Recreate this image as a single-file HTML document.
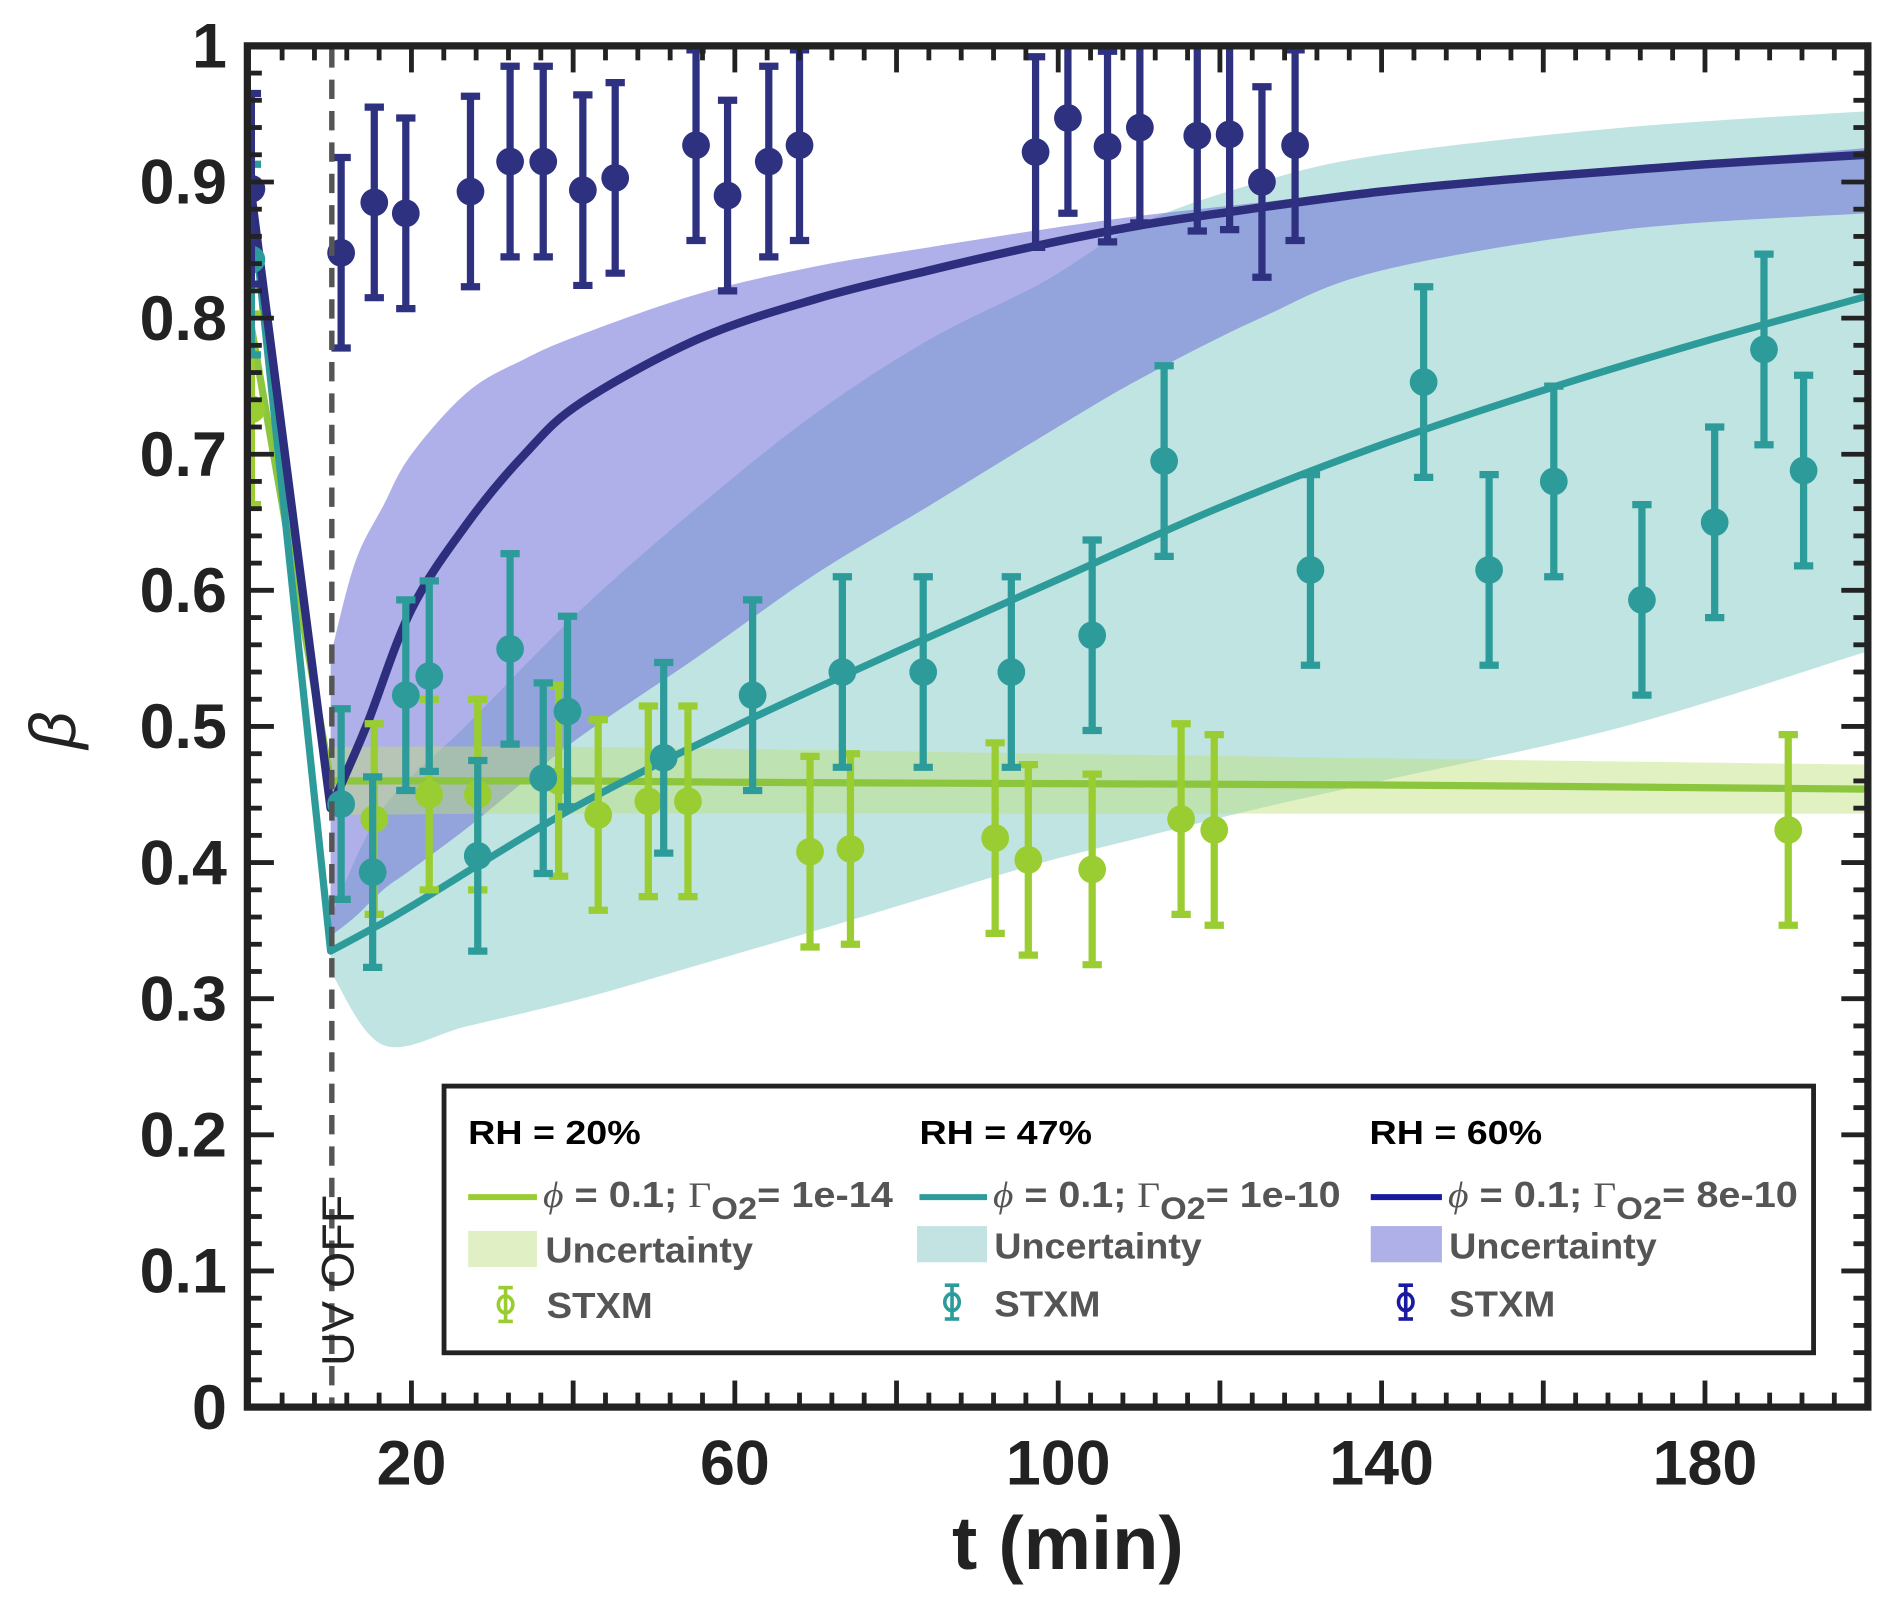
<!DOCTYPE html>
<html><head><meta charset="utf-8"><style>
html,body{margin:0;padding:0;background:#fff}
svg{display:block}
text{font-family:"Liberation Sans",sans-serif}
</style></head><body>
<svg id="chart" width="1892" height="1605" viewBox="0 0 1568 1330" preserveAspectRatio="none" xmlns="http://www.w3.org/2000/svg">
<defs><clipPath id="plotclip"><rect x="205" y="38" width="1343" height="1128"/></clipPath></defs>
<g clip-path="url(#plotclip)">
<g id="bands"></g>
<g id="curves"></g>
<g id="points"></g>
</g>
<line x1="275" y1="40" x2="275" y2="1164" stroke="#555" stroke-width="4.5" stroke-dasharray="16,10"/>
<text transform="translate(293,1132) rotate(-90)" font-size="38" fill="#222" textLength="142" lengthAdjust="spacingAndGlyphs">UV OFF</text>
<g id="axes"></g>
<g>
<rect x="368" y="900" width="1135" height="221" fill="#fff" stroke="#222" stroke-width="4"/>
<text x="388" y="948" font-size="28" font-weight="bold" textLength="143" lengthAdjust="spacingAndGlyphs">RH = 20%</text>
<text x="762" y="948" font-size="28" font-weight="bold" textLength="143" lengthAdjust="spacingAndGlyphs">RH = 47%</text>
<text x="1135" y="948" font-size="28" font-weight="bold" textLength="143" lengthAdjust="spacingAndGlyphs">RH = 60%</text>
<g><line x1="388" y1="992" x2="445" y2="992" stroke="#9acd32" stroke-width="5"/><text x="450" y="1000" font-size="30" font-weight="bold" fill="#555" textLength="290" lengthAdjust="spacingAndGlyphs"><tspan font-family="Liberation Serif" font-style="italic" font-weight="normal">ϕ</tspan> = 0.1; <tspan font-family="Liberation Serif" font-weight="normal">Γ</tspan><tspan dy="10" font-size="26">O2</tspan><tspan dy="-10">= 1e-14</tspan></text></g>
<g><line x1="762" y1="992" x2="818" y2="992" stroke="#2e9b9b" stroke-width="5"/><text x="823" y="1000" font-size="30" font-weight="bold" fill="#555" textLength="288" lengthAdjust="spacingAndGlyphs"><tspan font-family="Liberation Serif" font-style="italic" font-weight="normal">ϕ</tspan> = 0.1; <tspan font-family="Liberation Serif" font-weight="normal">Γ</tspan><tspan dy="10" font-size="26">O2</tspan><tspan dy="-10">= 1e-10</tspan></text></g>
<g><line x1="1136" y1="992" x2="1195" y2="992" stroke="#1a1aa0" stroke-width="5"/><text x="1200" y="1000" font-size="30" font-weight="bold" fill="#555" textLength="290" lengthAdjust="spacingAndGlyphs"><tspan font-family="Liberation Serif" font-style="italic" font-weight="normal">ϕ</tspan> = 0.1; <tspan font-family="Liberation Serif" font-weight="normal">Γ</tspan><tspan dy="10" font-size="26">O2</tspan><tspan dy="-10">= 8e-10</tspan></text></g>
<g><rect x="388" y="1020" width="57" height="30" fill="#e0efc4"/><text x="452" y="1046" font-size="30" font-weight="bold" fill="#555" textLength="172" lengthAdjust="spacingAndGlyphs">Uncertainty</text></g>
<g><rect x="760" y="1016" width="58" height="30" fill="#c3e3e2"/><text x="824" y="1043" font-size="30" font-weight="bold" fill="#555" textLength="172" lengthAdjust="spacingAndGlyphs">Uncertainty</text></g>
<g><rect x="1136" y="1016" width="59" height="30" fill="#b0b0e8"/><text x="1201" y="1043" font-size="30" font-weight="bold" fill="#555" textLength="172" lengthAdjust="spacingAndGlyphs">Uncertainty</text></g>
<g stroke="#9acd32" stroke-width="3" fill="none"><line x1="419" y1="1067" x2="419" y2="1095"/><line x1="413" y1="1067" x2="425" y2="1067"/><line x1="413" y1="1095" x2="425" y2="1095"/><ellipse cx="419" cy="1081" rx="6" ry="7"/><text x="453" y="1092" font-size="30" font-weight="bold" fill="#555" stroke="none" textLength="88" lengthAdjust="spacingAndGlyphs">STXM</text></g>
<g stroke="#2e9b9b" stroke-width="3" fill="none"><line x1="789" y1="1065" x2="789" y2="1093"/><line x1="783" y1="1065" x2="795" y2="1065"/><line x1="783" y1="1093" x2="795" y2="1093"/><ellipse cx="789" cy="1079" rx="6" ry="7"/><text x="824" y="1091" font-size="30" font-weight="bold" fill="#555" stroke="none" textLength="88" lengthAdjust="spacingAndGlyphs">STXM</text></g>
<g stroke="#1a1aa0" stroke-width="3" fill="none"><line x1="1165" y1="1065" x2="1165" y2="1093"/><line x1="1159" y1="1065" x2="1171" y2="1065"/><line x1="1159" y1="1093" x2="1171" y2="1093"/><ellipse cx="1165" cy="1079" rx="6" ry="7"/><text x="1201" y="1091" font-size="30" font-weight="bold" fill="#555" stroke="none" textLength="88" lengthAdjust="spacingAndGlyphs">STXM</text></g>
</g>
<text x="885" y="1300" font-size="62" font-weight="bold" text-anchor="middle" fill="#222" textLength="192" lengthAdjust="spacingAndGlyphs">t (min)</text>
<text transform="translate(62,605) rotate(-90)" font-size="54" font-style="italic" font-family="Liberation Serif" text-anchor="middle" fill="#222">β</text>
</svg>
<script>
const NS='http://www.w3.org/2000/svg';
const xTicksMajor=[20,40,60,80,100,120,140,160,180];
const xTickLabels=[20,60,100,140,180];
const yTickLabels=[0,0.1,0.2,0.3,0.4,0.5,0.6,0.7,0.8,0.9,1];
// fit curves
const greenFitT=[0,10,20,40,60,100,140,200];
const fitGreen=[0.8,0.46,0.46,0.46,0.459,0.458,0.457,0.454];
const tealFitT=[0,10,15,20,40,60,80,100,120,140,160,180,200];
const fitTeal=[0.9,0.335,0.351,0.368,0.44,0.5,0.555,0.608,0.661,0.707,0.747,0.783,0.816];
const navyFitT=[0,10,14.4,20,27,34,41,55.6,70,84,98,110,120,140,160,180,200];
const fitNavy=[0.9,0.44,0.5,0.586,0.65,0.7,0.738,0.785,0.814,0.835,0.854,0.868,0.877,0.893,0.904,0.913,0.92];
// bands
const navyBandT=[10,13,16.5,20,27,34,41,55.6,70,84,98,110,125,140,170,200];
const navyUpper=[0.552,0.62,0.662,0.7,0.746,0.77,0.788,0.818,0.838,0.852,0.865,0.875,0.885,0.895,0.91,0.925];
const navyLower=[0.346,0.36,0.38,0.395,0.426,0.46,0.493,0.552,0.612,0.662,0.713,0.755,0.8,0.835,0.865,0.877];
const tealBandT=[10,16.5,27,41,55.6,70,84,98,110,125,140,170,200];
const tealUpper=[0.36,0.44,0.502,0.586,0.662,0.73,0.784,0.826,0.869,0.9,0.92,0.94,0.952];
const tealLower=[0.32,0.266,0.28,0.3,0.325,0.35,0.375,0.4,0.418,0.44,0.46,0.5,0.555];
const greenBandT=[10,40,100,160,200];
const greenUpper=[0.485,0.485,0.48,0.475,0.472];
const greenLower=[0.435,0.436,0.436,0.436,0.436];
// STXM points
const navyT=[0.2,11.3,15.4,19.3,27.3,32.2,36.3,41.2,45.2,55.2,59.1,64.2,68,97.2,101.2,106.1,110.1,117.2,121.2,125.2,129.3];
const navyB=[0.895,0.848,0.885,0.877,0.893,0.915,0.915,0.894,0.903,0.927,0.89,0.915,0.927,0.922,0.947,0.926,0.94,0.934,0.935,0.9,0.927];
const tealT=[0.2,11.3,15.2,19.3,22.2,28.2,32.2,36.3,39.3,51.2,62.2,73.3,83.3,94.2,104.2,113.1,131.2,145.2,153.3,161.3,172.2,181.2,187.3,192.2];
const tealB=[0.843,0.443,0.393,0.523,0.537,0.405,0.557,0.462,0.511,0.477,0.523,0.54,0.54,0.54,0.567,0.695,0.615,0.753,0.615,0.68,0.593,0.65,0.777,0.688];
const greenT=[0.2,15.4,22.2,28.2,38.2,43.1,49.3,54.2,69.3,74.3,92.2,96.3,104.2,115.2,119.3,190.3];
const greenB=[0.733,0.432,0.45,0.45,0.46,0.435,0.445,0.445,0.408,0.41,0.418,0.402,0.395,0.432,0.424,0.424];
const errHalf=0.07;

const X=t=>207+t*6.7, Y=b=>1166-b*1128;
function el(tag,attrs,parent){const e=document.createElementNS(NS,tag);for(const k in attrs)e.setAttribute(k,attrs[k]);parent.appendChild(e);return e;}
function smooth(p){
  let d='';
  for(let i=0;i<p.length-1;i++){
    const p0=p[i-1]||p[i],p1=p[i],p2=p[i+1],p3=p[i+2]||p2;
    const c1=[p1[0]+(p2[0]-p0[0])/6,p1[1]+(p2[1]-p0[1])/6];
    const c2=[p2[0]-(p3[0]-p1[0])/6,p2[1]-(p3[1]-p1[1])/6];
    d+=' C'+c1[0]+','+c1[1]+' '+c2[0]+','+c2[1]+' '+p2[0]+','+p2[1];
  }
  return d;
}

const bands=document.getElementById('bands');
function band(T,up,lo,fill,name){
  const u=T.map((t,i)=>[X(t),Y(up[i])]);
  const l=T.map((t,i)=>[X(t),Y(lo[i])]).reverse();
  const d='M'+u[0][0]+','+u[0][1]+smooth(u)+' L'+l[0][0]+','+l[0][1]+smooth(l)+'Z';
  const p=el('path',{d:d,fill:fill},bands);
  
  
}
band(tealBandT,tealUpper,tealLower,'rgba(140,205,202,0.55)','band-rh47');
band(navyBandT,navyUpper,navyLower,'rgba(110,110,215,0.55)','band-rh60');
band(greenBandT,greenUpper,greenLower,'rgba(190,225,120,0.45)','band-rh20');

const curves=document.getElementById('curves');
function curve(T,vals,color,name,w){
  const pts=T.map((t,i)=>[X(t),Y(vals[i])]);
  const rest=pts.slice(1);
  const d='M'+pts[0][0]+','+pts[0][1]+' L'+rest[0][0]+','+rest[0][1]+smooth(rest);
  const p=el('path',{d:d,fill:'none',stroke:color,'stroke-width':w,'stroke-linejoin':'round'},curves);
  
  
}
curve(greenFitT,fitGreen,'#8cc63f','fit-rh20',6);
curve(tealFitT,fitTeal,'#2e9b9b','fit-rh47',6);
curve(navyFitT,fitNavy,'#2e2e7e','fit-rh60',7);

const pts=document.getElementById('points');
function series(ts,bs,color,name){
  const g=el('g',{stroke:color,fill:color,'stroke-width':6},pts);
  
  
  ts.forEach((t,i)=>{
    const x=X(t),y1=Y(bs[i]+errHalf),y2=Y(bs[i]-errHalf);
    const pg=el('g',{},g);
    
    
    el('line',{x1:x,y1:y1,x2:x,y2:y2},pg);
    el('line',{x1:x-8,y1:y1,x2:x+8,y2:y1},pg);
    el('line',{x1:x-8,y1:y2,x2:x+8,y2:y2},pg);
    el('circle',{cx:x,cy:Y(bs[i]),r:11.5,stroke:'none'},pg);
  });
}
series(greenT,greenB,'#9acd32','stxm-rh20');
series(tealT,tealB,'#2e9b9b','stxm-rh47');
series(navyT,navyB,'#2e3080','stxm-rh60');

const axes=document.getElementById('axes');
const fr=el('rect',{x:205,y:38,width:1343,height:1128,fill:'none',stroke:'#222','stroke-width':6},axes);


for(let t=4;t<200;t+=4){
  const maj=xTicksMajor.includes(t), L=maj?22:12;
  el('line',{x1:X(t),y1:1166,x2:X(t),y2:1166-L,stroke:'#222','stroke-width':4},axes);
  el('line',{x1:X(t),y1:38,x2:X(t),y2:38+L,stroke:'#222','stroke-width':4},axes);
}
for(let k=1;k<50;k++){
  const b=k*0.02, maj=k%5===0, L=maj?22:12;
  el('line',{x1:205,y1:Y(b),x2:205+L,y2:Y(b),stroke:'#222','stroke-width':4},axes);
  el('line',{x1:1548,y1:Y(b),x2:1548-L,y2:Y(b),stroke:'#222','stroke-width':4},axes);
}
xTickLabels.forEach(v=>{
  const t=el('text',{x:X(v),y:1230,'font-size':52,'font-weight':'bold','text-anchor':'middle',fill:'#222'},axes);
  
  
  t.textContent=v;
});
yTickLabels.forEach(v=>{
  const t=el('text',{x:188,y:Y(v)+18,'font-size':52,'font-weight':'bold','text-anchor':'end',fill:'#222'},axes);
  
  
  t.textContent=String(v);
});
</script>
</body></html>
